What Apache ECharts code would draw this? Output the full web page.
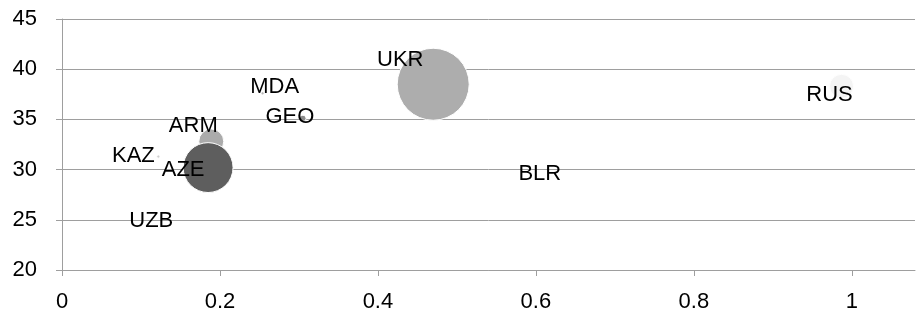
<!DOCTYPE html>
<html>
<head>
<meta charset="utf-8">
<script src="https://cdn.jsdelivr.net/npm/echarts@6/dist/echarts.min.js"></script>
<style>
html,body{margin:0;padding:0;background:#fff;}
#c{width:917px;height:320px;}
</style>
</head>
<body>
<div id="c"></div>
<script>
// Data
var countries = ['UKR', 'ARM', 'AZE', 'KAZ', 'GEO', 'MDA', 'RUS', 'BLR', 'UZB'];
var xValues   = [0.470, 0.189, 0.185, 0.122, 0.305, 0.254, 0.987, 0.605, 0.113];
var yValues   = [38.5, 32.8, 30.2, 31.3, 35.1, 37.6, 38.3, 29.6, 24.9];
var sizes     = [100, 12, 48, 0.2, 0.8, 0.2, 11, 0, 0];
var xTicks    = [0, 0.2, 0.4, 0.6, 0.8, 1];
var yTicks    = [20, 25, 30, 35, 40, 45];

// Styles (not data)
var colors = {UKR:'#adadad', ARM:'#ababab', AZE:'#5e5e5e', KAZ:'#cfcfcf', GEO:'#8a8a8a',
              MDA:'#b5b5b5', RUS:'#f4f4f4', BLR:'#ffffff', UZB:'#ffffff'};
var labelOffsets = {UKR:[-33,-24], ARM:[-18,-16], AZE:[-25,2], KAZ:[-25,-1], GEO:[-13,-1],
                    MDA:[12,-6], RUS:[-12,9], BLR:[0,0], UZB:[0,0]};
var zOrder = ['ARM','UKR','AZE','KAZ','GEO','MDA','RUS','BLR','UZB'];

var FONT = 'Liberation Sans';
var data = zOrder.map(function(n){
  var i = countries.indexOf(n);
  return {
    name: n,
    value: [xValues[i], yValues[i], sizes[i]],
    itemStyle: {color: colors[n]},
    label: {offset: labelOffsets[n]}
  };
});

var chart = echarts.init(document.getElementById('c'), null, {renderer:'canvas'});
chart.setOption({
  animation: false,
  backgroundColor: '#ffffff',
  grid: {left: 62, right: 2, top: 19, bottom: 50, containLabel: false},
  xAxis: {
    type: 'value', min: 0, max: 1.08, interval: 0.2,
    axisLine: {show: true, onZero: false, lineStyle: {color: '#9e9e9e', width: 1}},
    axisTick: {show: true, length: 6, lineStyle: {color: '#9e9e9e'}, customValues: xTicks},
    axisLabel: {customValues: xTicks, color: '#000', fontFamily: FONT, fontSize: 22, margin: 21,
      formatter: function(v){ return String(v); }},
    splitLine: {show: false}
  },
  yAxis: {
    type: 'value', min: 20, max: 45, interval: 5,
    axisLine: {show: true, lineStyle: {color: '#9e9e9e', width: 1}},
    axisTick: {show: true, length: 6, lineStyle: {color: '#9e9e9e'}, customValues: yTicks},
    axisLabel: {customValues: yTicks, color: '#000', fontFamily: FONT, fontSize: 22, margin: 25},
    splitLine: {show: true, lineStyle: {color: '#9e9e9e', width: 1}}
  },
  series: [{
    type: 'scatter',
    data: data,
    symbol: 'circle',
    symbolSize: function(v){ return Math.max(0, 72 * Math.sqrt(v[2] / 100)); },
    itemStyle: {borderColor: '#ffffff', borderWidth: 1, opacity: 1},
    label: {
      show: true, position: 'inside',
      formatter: function(p){ return p.name; },
      color: '#000', fontFamily: FONT, fontSize: 22
    },
    emphasis: {disabled: true}
  }]
});
</script>
</body>
</html>
